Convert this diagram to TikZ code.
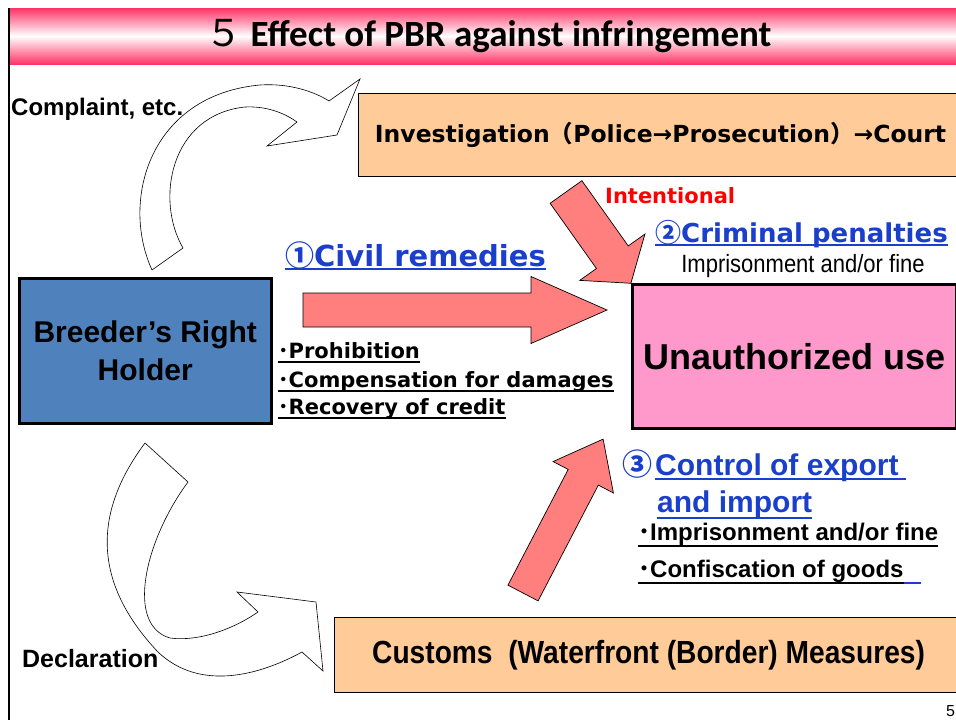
\documentclass[tikz,border=0pt]{standalone}
\usepackage{fontspec}
\setmainfont{Liberation Sans}
\newfontfamily\gothic{DejaVu Sans}
\newfontfamily\calib{Carlito}
\newfontfamily\cjk{Noto Sans CJK JP}
\newfontfamily\narrow[FakeStretch=0.88]{Liberation Sans}
\usetikzlibrary{calc}
\definecolor{peach}{HTML}{FFCC99}
\definecolor{holderblue}{HTML}{4F81BD}
\definecolor{usepink}{HTML}{FF99CC}
\definecolor{salmon}{HTML}{FF7F7F}
\definecolor{linkblue}{HTML}{1A3FCC}
\definecolor{titlepink}{HTML}{FF3366}
\newcommand{\fsz}[2]{\fontsize{#1}{#2}\selectfont}
% fat straight arrow: tail, angle, length, body half width, head half width, head length
\newcommand{\fatarrow}[6]{%
  \begin{scope}[shift={#1},rotate=#2]
    \draw[redarrow] (0,-#4) -- ({#3-#6},-#4) -- ({#3-#6},-#5) -- (#3,0)
      -- ({#3-#6},#5) -- ({#3-#6},#4) -- (0,#4) -- cycle;
  \end{scope}}
\tikzset{
  peachbox/.style={draw, fill=peach, line width=1.2pt, anchor=north west, inner sep=0pt,
    font=\gothic\bfseries},
  holderbox/.style={draw, fill=holderblue, line width=2.5pt, anchor=north west, inner sep=0pt,
    align=center, font=\bfseries\fsz{30}{38}},
  usebox/.style={draw, fill=usepink, line width=2.5pt, anchor=north west, inner sep=0pt,
    font=\bfseries\fsz{36}{40}},
  redarrow/.style={draw, fill=salmon, line width=0.7pt, line join=miter},
  bendarrow/.style={draw, fill=white, line width=0.6pt},
  plain/.style={anchor=base west, inner sep=0pt},
  ul/.style={anchor=base west, inner sep=0pt, text depth=4pt,
    append after command={(\tikzlastnode.south west) edge[draw=#1, line width=1.6pt]
      (\tikzlastnode.south east)}},
}

\begin{document}
\begin{tikzpicture}[x=1pt,y=-1pt]
  \useasboundingbox (0,0) rectangle (956,720);
  %\draw[help lines,step=50] (0,0) grid (956,720);
  \shade[top color=titlepink, bottom color=titlepink, middle color=white] (10,8) rectangle (956,64);
  \draw[line width=2.5pt] (9,8) -- (9,720);
  \node[plain, font=\calib\bfseries\fsz{37}{40}] (title) at (205,46)
    {{\cjk\mdseries ５} Effect of PBR against infringement};

  % bent arrows
  \draw[bendarrow] (152,270) -- (183,248) .. controls (155,200) and (170,115) .. (245,107)
    .. controls (265,106) and (283,112) .. (297,122) -- (267,146) -- (337,135) -- (360,79)
    -- (329,101) .. controls (315,92) and (290,83) .. (260,85)
    .. controls (150,95) and (120,200) .. (152,270) -- cycle;
  \draw[bendarrow] (145,443) -- (188,482) .. controls (145,540) and (125,625) .. (170,638)
    .. controls (200,642) and (235,628) .. (258,612) -- (237,592) -- (316,602) -- (323,671)
    -- (302,652) .. controls (260,675) and (200,692) .. (158,652)
    .. controls (90,580) and (95,510) .. (145,443) -- cycle;

  % boxes
  \node[peachbox, minimum width=604pt, minimum height=83pt, font=\gothic\bfseries\fsz{23.5}{26}] (invest) at (358,93)
    {Investigation{\cjk （}Police→Prosecution{\cjk ）}→Court};
  \node[holderbox, minimum width=252pt, minimum height=145pt] (holder) at (18,277)
    {Breeder’s Right\\Holder};
  \node[usebox, minimum width=324pt, minimum height=144pt] (unauth) at (631,283) {Unauthorized use};
  \node[peachbox, minimum width=628pt, minimum height=75pt, font=\narrow\bfseries\fsz{32}{36}] (customs) at (334,617)
    {Customs\ \ (Waterfront (Border) Measures)};

  % red arrows
  \fatarrow{(303,310)}{0}{304}{17}{33.5}{76}
  \fatarrow{(566,192)}{-54.6}{112}{19.5}{40}{32}
  \fatarrow{(523,593)}{62.5}{173.5}{17}{34}{43}

  % labels
  \node[plain, font=\bfseries\fsz{24}{28}] (complaint) at (11,115) {Complaint, etc.};
  \node[plain, font=\bfseries\fsz{25}{28}] (declare) at (22,667) {Declaration};
  \node[plain, text=red, font=\gothic\bfseries\fsz{21}{24}] (intent) at (605,203) {Intentional};

  \node[ul=linkblue, text depth=3pt, text=linkblue, font=\gothic\bfseries\fsz{29}{32}] (civil) at (285,266)
    {{\cjk ①}Civil remedies};
  \node[ul=black, font=\gothic\bfseries\fsz{21}{24}] (prohib) at (278,358) {{\cjk ･}Prohibition};
  \node[ul=black, font=\gothic\bfseries\fsz{21}{24}] (compens) at (278,387) {{\cjk ･}Compensation for damages};
  \node[ul=black, font=\gothic\bfseries\fsz{21}{24}] (recover) at (278,414) {{\cjk ･}Recovery of credit};

  \node[ul=linkblue, text depth=3pt, text=linkblue, font=\gothic\bfseries\fsz{26}{30}] (criminal) at (655,242)
    {{\cjk ②}Criminal penalties};
  \node[anchor=base, inner sep=0pt, font=\narrow\fsz{25}{28}] (crimfine) at (803,272) {Imprisonment and/or fine};

  \node[plain, text=linkblue, font=\bfseries\fsz{30}{32}] (num3) at (622,475) {\cjk ③};
  \node[ul=linkblue, text=linkblue, font=\bfseries\fsz{30}{32}] (export) at (655,475) {Control of export\hspace*{7pt}};
  \node[ul=linkblue, text depth=6pt, text=linkblue, font=\bfseries\fsz{30}{32}] (import) at (657,512) {and import};
  \node[ul=black, text depth=6pt, font=\bfseries\fsz{24}{28}] (prison) at (638,540) {{\cjk ･}Imprisonment and/or fine};
  \node[ul=black, text depth=6pt, font=\bfseries\fsz{24}{28}] (confisc) at (638,577) {{\cjk ･}Confiscation of goods};
  \draw[linkblue, line width=1.6pt] (confisc.south east) -- ++(17,0);

  \node[plain, font=\fsz{16}{18}] (page) at (946,716) {5};
\end{tikzpicture}
\end{document}
